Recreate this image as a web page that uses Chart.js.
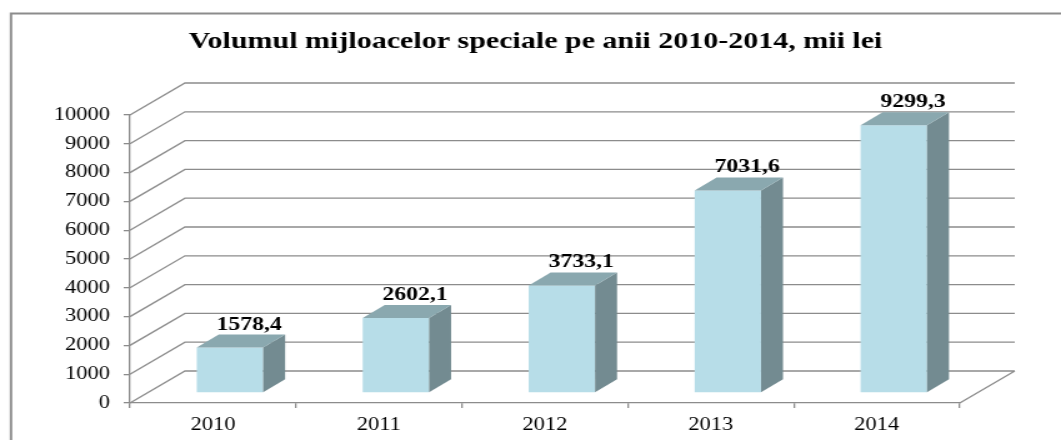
<!DOCTYPE html>
<html>
<head>
<meta charset="utf-8">
<script src="https://cdn.jsdelivr.net/npm/chart.js@4/dist/chart.umd.min.js"></script>
<style>
  html, body { margin: 0; padding: 0; background: #fff; overflow: hidden; }
  #wrap { position: absolute; left: 0; top: 0; width: 849px; height: 440px;
          transform: scaleX(1.2497); transform-origin: 0 0; }
</style>
</head>
<body>
<div id="wrap"><canvas id="c"></canvas></div>
<script>
const categories = ['2010', '2011', '2012', '2013', '2014'];
const values = [1578.4, 2602.1, 3733.1, 7031.6, 9299.3];
const yMin = 0, yMax = 10000, yStep = 1000;
const titleText = 'Volumul mijloacelor speciale pe anii 2010-2014, mii lei';

const GRID = '#8c8c8c';
const FRONT = '#b7dde8', TOP = '#8aa8af', SIDE = '#738b91';
const SERIF = 'Liberation Serif';
// 3D projection offsets (logical px, canvas is stretched horizontally)
const WALL_DX = 44, WALL_DY = -32;
const BAR_OX = 13.6, BAR_OY = -10;
const BAR_DX = 17.6, BAR_DY = -13;

const fmt = v => v.toFixed(1).replace('.', ',');

const threeD = {
  id: 'threeD',
  beforeDraw(chart) {
    const ctx = chart.ctx;
    ctx.save();
    ctx.strokeStyle = GRID;
    ctx.lineWidth = 2;
    ctx.strokeRect(8.8, 13.5, chart.width + 20, chart.height + 20);
    ctx.restore();
  },
  beforeDatasetsDraw(chart) {
    const ctx = chart.ctx, a = chart.chartArea, y = chart.scales.y;
    ctx.save();
    ctx.strokeStyle = GRID;
    ctx.lineWidth = 1.3;
    ctx.beginPath();
    for (let v = yMin; v <= yMax; v += yStep) {
      const py = y.getPixelForValue(v);
      ctx.moveTo(a.left, py);
      ctx.lineTo(a.left + WALL_DX, py + WALL_DY);
      ctx.lineTo(a.right + WALL_DX, py + WALL_DY);
    }
    ctx.moveTo(a.right, a.bottom);
    ctx.lineTo(a.right + WALL_DX, a.bottom + WALL_DY);
    ctx.stroke();
    ctx.restore();
    ctx.save();
    ctx.translate(BAR_OX, BAR_OY);
  },
  afterDatasetsDraw(chart) {
    const ctx = chart.ctx;
    ctx.restore();
    const meta = chart.getDatasetMeta(0);
    ctx.save();
    meta.data.forEach((el, i) => {
      const p = el.getProps(['x', 'y', 'base', 'width'], true);
      const l = p.x - p.width / 2 + BAR_OX, r = p.x + p.width / 2 + BAR_OX;
      const t = p.y + BAR_OY, b = p.base + BAR_OY;
      ctx.fillStyle = SIDE;
      ctx.beginPath();
      ctx.moveTo(r, t); ctx.lineTo(r + BAR_DX, t + BAR_DY);
      ctx.lineTo(r + BAR_DX, b + BAR_DY); ctx.lineTo(r, b);
      ctx.closePath(); ctx.fill();
      ctx.fillStyle = TOP;
      ctx.beginPath();
      ctx.moveTo(l, t); ctx.lineTo(r, t);
      ctx.lineTo(r + BAR_DX, t + BAR_DY); ctx.lineTo(l + BAR_DX, t + BAR_DY);
      ctx.closePath(); ctx.fill();
      ctx.fillStyle = '#000';
      ctx.font = 'bold 19px "' + SERIF + '"';
      ctx.textAlign = 'center';
      ctx.textBaseline = 'alphabetic';
      ctx.fillText(fmt(values[i]), p.x + 29, t + BAR_DY - 5);
    });
    ctx.restore();
  }
};

const tickFont = { family: SERIF, size: 18 };

function draw() {
  new Chart(document.getElementById('c'), {
    type: 'bar',
    data: {
      labels: categories,
      datasets: [{
        data: values,
        backgroundColor: FRONT,
        borderWidth: 0,
        barPercentage: 0.4,
        categoryPercentage: 1,
        clip: false
      }]
    },
    options: {
      responsive: true,
      maintainAspectRatio: false,
      animation: false,
      events: [],
      layout: { padding: { left: 8, right: 0, top: 0, bottom: 0 } },
      plugins: {
        legend: { display: false },
        tooltip: { enabled: false },
        title: {
          display: true,
          text: titleText,
          color: '#000',
          font: { family: SERIF, size: 24, weight: 'bold', lineHeight: 1.2 },
          padding: { top: 27.6, bottom: 58.6 }
        }
      },
      scales: {
        x: {
          offset: true,
          grid: { display: true, drawOnChartArea: false, drawTicks: true, tickLength: 5, color: GRID, lineWidth: 1.3, offset: true },
          border: { display: true, color: GRID, width: 1.3 },
          ticks: { color: '#000', font: tickFont, padding: 6, maxRotation: 0 },
          afterFit(s) { s.height = 37; }
        },
        y: {
          min: yMin, max: yMax,
          grid: { display: true, drawOnChartArea: false, drawTicks: true, tickLength: 5, color: GRID, lineWidth: 1.3 },
          border: { display: true, color: GRID, width: 1.3 },
          ticks: { stepSize: yStep, color: '#000', font: tickFont, padding: 11, callback: v => String(v) },
          afterFit(s) { s.width = 96; }
        },
        y2: {
          position: 'right',
          grid: { display: false, drawTicks: false },
          border: { display: false },
          ticks: { display: false },
          afterFit(s) { s.width = 81; }
        }
      }
    },
    plugins: [threeD]
  });
}

Promise.all([
  document.fonts.load('18px "' + SERIF + '"'),
  document.fonts.load('bold 24px "' + SERIF + '"')
]).then(draw, draw);
</script>
</body>
</html>
